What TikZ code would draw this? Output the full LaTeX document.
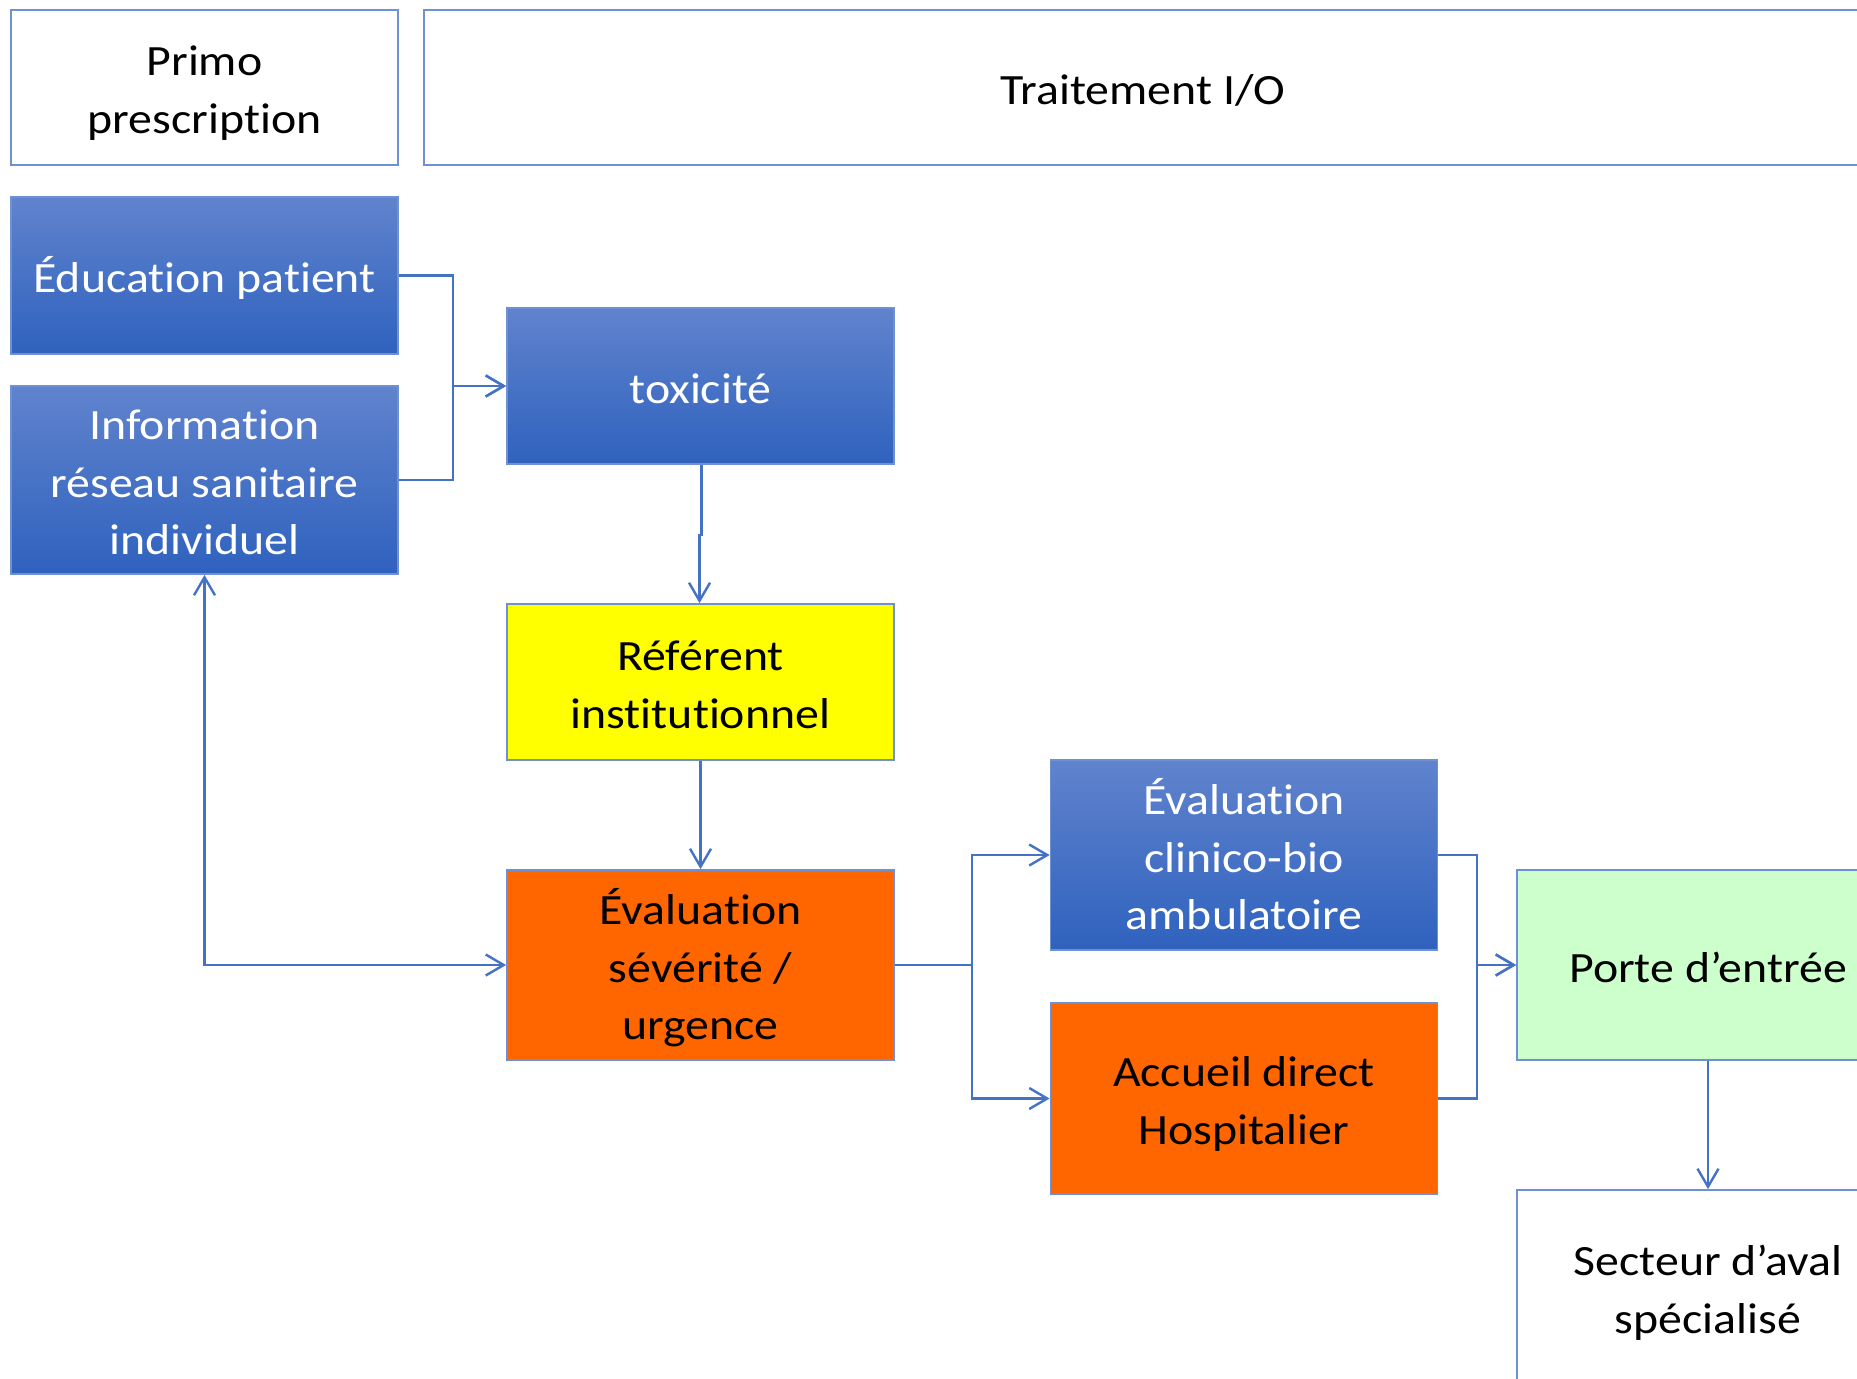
\documentclass[tikz,border=0pt]{standalone}
\usepackage{fontspec}
\setmainfont[FakeStretch=1.107,Ligatures=NoCommon]{Carlito}
\usetikzlibrary{arrows.meta}
\definecolor{lineblue}{RGB}{68,114,196}
\definecolor{bordblue}{RGB}{110,145,212}
\definecolor{gtop}{RGB}{96,131,205}
\definecolor{gbot}{RGB}{47,98,190}
\definecolor{orng}{RGB}{255,102,0}
\definecolor{ylw}{RGB}{255,255,0}
\definecolor{lgreen}{RGB}{204,255,204}
\newcommand\mystrut{\rule[-5.7pt]{0pt}{28.6pt}}
\begin{document}
\begin{tikzpicture}[x=0.5pt,y=-0.5pt,
  >={Straight Barb[length=9pt,width=10.5pt]},
  box/.style={draw=bordblue,line width=0.9pt,rectangle,inner sep=0pt,align=center,
    font=\fontsize{21.6}{28.85}\selectfont,minimum width=193.5pt},
  bluebox/.style={box,top color=gtop,bottom color=gbot,text=white},
  conn/.style={draw=lineblue,line width=1.2pt}
]
\useasboundingbox (0,0) rectangle (1857,1379);
\clip (0,0) rectangle (1857,1379);
\fill[white] (0,0) rectangle (1857,1379);

\node[box,minimum height=77.5pt] (primo) at (204.5,87.5) {\mystrut Primo\\\mystrut prescription};
\node[box,minimum height=77.5pt,minimum width=719pt] (trait) at (1143,87.5) {\mystrut Traitement I/O};
\node[bluebox,minimum height=78.5pt] (edu) at (204.5,275.5) {\mystrut Éducation patient};
\node[bluebox,minimum height=94pt] (info) at (204.5,480) {\mystrut Information\\\mystrut réseau sanitaire\\\mystrut individuel};
\node[bluebox,minimum height=78pt] (tox) at (700.5,386) {\mystrut toxicité};
\node[box,fill=ylw,minimum height=78pt] (ref) at (700.5,682) {\mystrut Référent\\\mystrut institutionnel};
\node[box,fill=orng,minimum height=95pt] (sev) at (700.5,965) {\mystrut Évaluation\\\mystrut sévérité /\\\mystrut urgence};
\node[bluebox,minimum height=95pt] (clin) at (1244,855) {\mystrut Évaluation\\\mystrut clinico-bio\\\mystrut ambulatoire};
\node[box,fill=orng,minimum height=95.5pt] (acc) at (1244,1098.5) {\mystrut Accueil direct\\\mystrut Hospitalier};
\node[box,fill=lgreen,minimum height=95pt,minimum width=191pt] (porte) at (1708,965) {\mystrut Porte d’entrée};
\node[box,minimum height=97pt,minimum width=191pt] (sect) at (1708,1287) {\mystrut Secteur d’aval\\\mystrut spécialisé};

\coordinate (j1) at (453,386);
\coordinate (j2) at (972,965);
\coordinate (j3) at (1477,965);
\coordinate (jt) at (700.5,535);

\draw[conn,->] (edu.east) -| (j1) -- (tox.west);
\draw[conn,->] (info.east) -| (j1) -- (tox.west);
\draw[conn,->] ([xshift=0.5pt]tox.south) |- (jt) -| ([xshift=-0.5pt]ref.north);
\draw[conn,->] (ref.south) -- (sev.north);
\draw[conn,<->] (info.south) |- (sev.west);
\draw[conn,->] (sev.east) -- (j2) |- (clin.west);
\draw[conn,->] (sev.east) -- (j2) |- (acc.west);
\draw[conn,->] (clin.east) -| (j3) -- (porte.west);
\draw[conn,->] (acc.east) -| (j3) -- (porte.west);
\draw[conn,->] (porte.south) -- (sect.north);
\end{tikzpicture}
\end{document}
